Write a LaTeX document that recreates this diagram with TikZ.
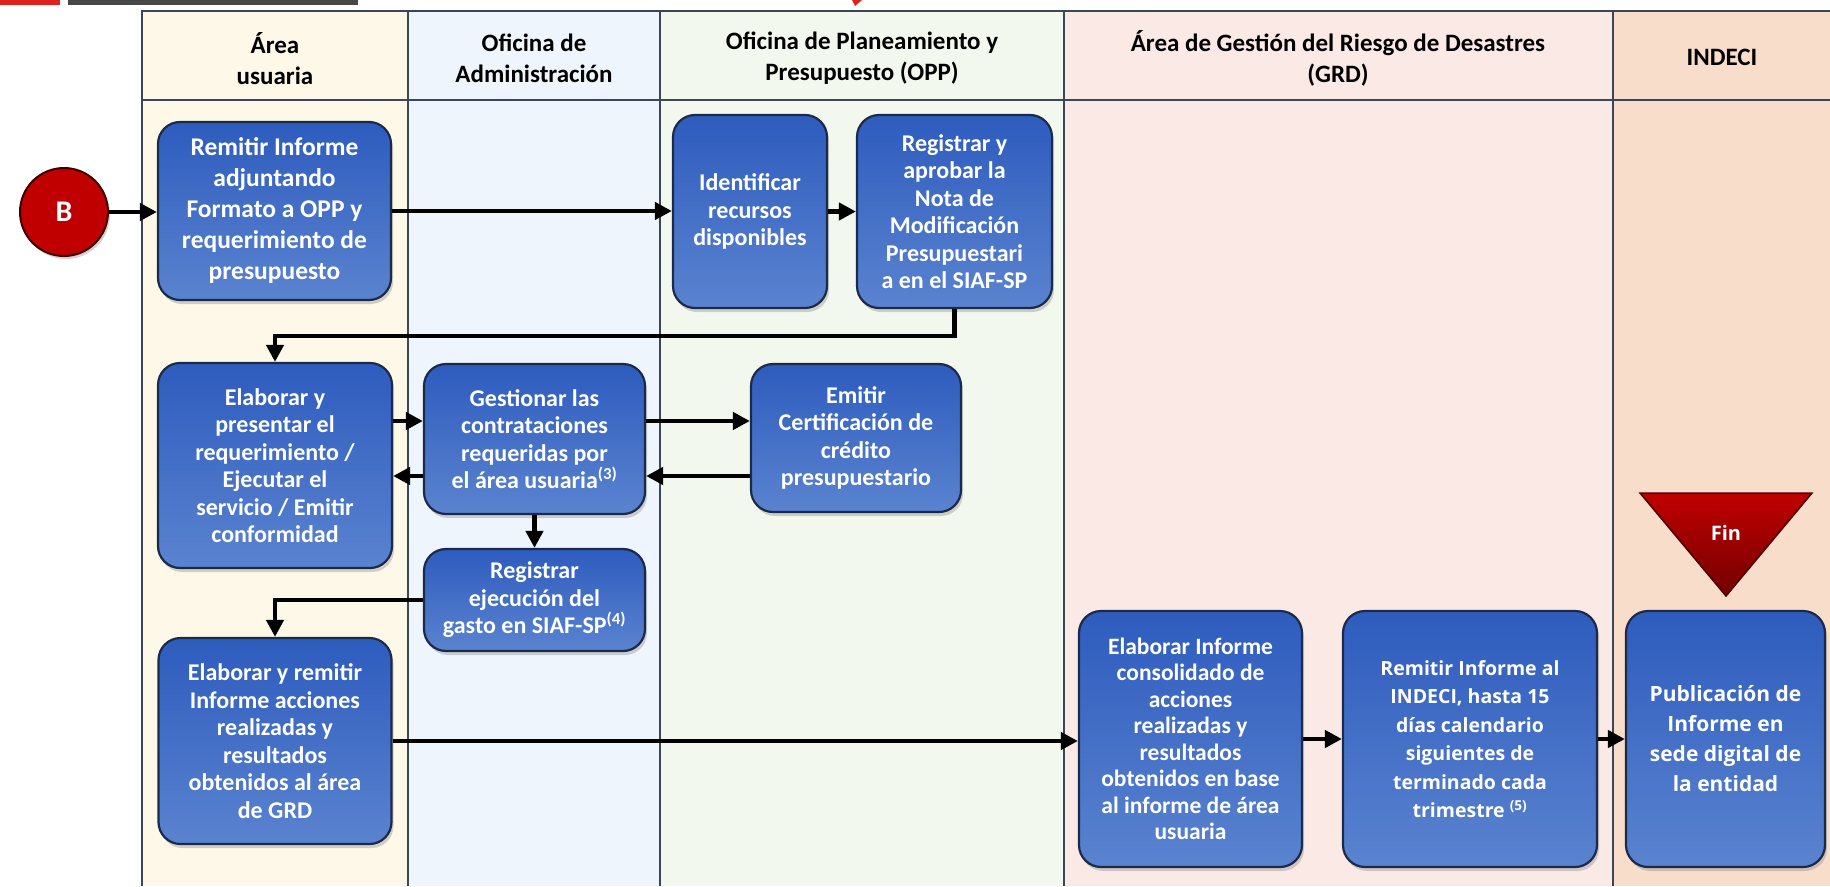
\documentclass[tikz,border=0pt]{standalone}
\usepackage{fontspec}
\setmainfont{Carlito}
\newfontfamily\opsans{Open Sans}
\usetikzlibrary{arrows.meta,shadows}
\definecolor{lna}{HTML}{FEF8E8}
\definecolor{lnb}{HTML}{EFF5FC}
\definecolor{lnc}{HTML}{F3F8EE}
\definecolor{lnd}{HTML}{FBE9E6}
\definecolor{lne}{HTML}{F9DDCB}
\definecolor{bxt}{HTML}{2E5CBE}
\definecolor{bxb}{HTML}{5A83CF}
\definecolor{bxd}{HTML}{1C2A4A}
\definecolor{lnx}{HTML}{3C4659}
\definecolor{rdx}{HTML}{C00000}
\definecolor{rdy}{HTML}{E0221E}
\tikzset{
    proc/.style={rounded corners=22pt,draw=bxd,line width=2.2pt,top color=bxt,bottom color=bxb,
        drop shadow={opacity=0.35,shadow xshift=2pt,shadow yshift=-4pt},
        text=white,font=\bfseries\fontsize{24}{27.5}\selectfont,align=center,inner sep=0pt},
    lanehd/.style={font=\bfseries\fontsize{25}{31}\selectfont,align=center,inner sep=0pt},
    flow/.style={line width=4.5pt,-{Triangle[length=17pt,width=17pt]}},
    ini/.style={circle,minimum size=88pt,fill=rdx,draw=black!75!red,line width=2pt,
        drop shadow={opacity=0.35,shadow xshift=2pt,shadow yshift=-3pt},
        text=white,font=\bfseries\fontsize{30}{32}\selectfont,inner sep=0pt},
    finx/.style={top color=rdx,bottom color=red!45!black,draw=black!70!red,line width=1.5pt},
    fintx/.style={text=white,font=\opsans\bfseries\fontsize{20}{24}\selectfont,inner sep=0pt}
}
\begin{document}
\begin{tikzpicture}[x=1pt,y=-1pt]
    \useasboundingbox (0,0) rectangle (1830,886);
    \fill[rdy] (0,0) rectangle (60,5);
    \fill[black!72] (68,0) rectangle (358,5);
    \fill[rdy] (852,0) -- (862,0) -- (855,6) -- cycle;
    \foreach \xa/\xb/\cl in {142/408/lna,408/660/lnb,660/1064/lnc,1064/1613/lnd,1613/1830/lne} {
        \fill[\cl] (\xa,11) rectangle (\xb,886);
    }
    \draw[lnx,line width=2.5pt] (142,886) -- (142,11) -- (1830,11);
    \draw[lnx,line width=2.5pt] (142,100) -- (1830,100);
    \foreach \xa in {408,660,1064,1613} {
        \draw[lnx,line width=2pt] (\xa,11) -- (\xa,886);
    }
    \node[lanehd] (h1) at (275,58.5) {Área\\usuaria};
    \node[lanehd] (h2) at (534,58.5) {Oficina de\\Administración};
    \node[lanehd] (h3) at (862,58.5) {Oficina de Planeamiento y\\Presupuesto (OPP)};
    \node[lanehd] (h4) at (1338,58.5) {Área de Gestión del Riesgo de Desastres\\(GRD)};
    \node[lanehd] (h5) at (1722,57) {INDECI};
    \node[ini] (b) at (64,212) {B};
    \node[proc,minimum width=233pt,minimum height=178pt,font=\bfseries\fontsize{25.5}{31}\selectfont] (p1) at (274.5,211)
        {Remitir Informe\\adjuntando\\Formato a OPP y\\requerimiento de\\presupuesto};
    \node[proc,minimum width=154pt,minimum height=193pt] (p2) at (750,211.5)
        {Identificar\\recursos\\disponibles};
    \node[proc,minimum width=195pt,minimum height=193pt] (p3) at (954.5,211.5)
        {Registrar y\\aprobar la\\Nota de\\Modificación\\Presupuestari\\a en el SIAF-SP};
    \node[proc,minimum width=234pt,minimum height=205pt] (p4) at (275,465.5)
        {Elaborar y\\presentar el\\requerimiento /\\Ejecutar el\\servicio / Emitir\\conformidad};
    \node[proc,minimum width=221pt,minimum height=150pt] (p5) at (534.5,439)
        {Gestionar las\\contrataciones\\requeridas por\\el área usuaria\textsuperscript{(3)}};
    \node[proc,minimum width=210pt,minimum height=148pt] (p6) at (856,438)
        {Emitir\\Certificación de\\crédito\\presupuestario};
    \node[proc,minimum width=221pt,minimum height=102pt] (p7) at (534.5,600)
        {Registrar\\ejecución del\\gasto en SIAF-SP\textsuperscript{(4)}};
    \node[proc,minimum width=233pt,minimum height=206pt] (p8) at (275,741)
        {Elaborar y remitir\\Informe acciones\\realizadas y\\resultados\\obtenidos al área\\de GRD};
    \node[proc,minimum width=223pt,minimum height=256pt,font=\bfseries\fontsize{23.5}{26.5}\selectfont] (p9) at (1190.5,739)
        {Elaborar Informe\\consolidado de\\acciones\\realizadas y\\resultados\\obtenidos en base\\al informe de área\\usuaria};
    \node[proc,minimum width=254pt,minimum height=256pt,font=\opsans\bfseries\fontsize{19.5}{28.5}\selectfont] (p10) at (1470,739)
        {Remitir Informe al\\INDECI, hasta 15\\días calendario\\siguientes de\\terminado cada\\trimestre \textsuperscript{(5)}};
    \node[proc,minimum width=199pt,minimum height=256pt,font=\opsans\bfseries\fontsize{21}{30}\selectfont] (p11) at (1725.5,739)
        {Publicación de\\Informe en\\sede digital de\\la entidad};
    \path[finx] (1640,493) -- (1812,493) -- (1726,596) -- cycle;
    \node[fintx] (fin) at (1726,533) {Fin};
    \coordinate (k1) at (275,336);
    \coordinate (u1) at ([yshift=18pt]p5.west);
    \coordinate (u2) at ([yshift=-37pt]p5.west);
    \coordinate (u3) at ([yshift=18pt]p5.east);
    \coordinate (u4) at ([yshift=-37pt]p5.east);
    \draw[flow] (b.east) -- (b.east -| p1.west);
    \draw[flow] (p1.east) -- (p1.east -| p2.west);
    \draw[flow] (p2.east) -- (p3.west);
    \draw[flow] (p3.south) |- (k1) -- (p4.north);
    \draw[flow] (u1 -| p4.east) -- (u1);
    \draw[flow] (u2) -- (u2 -| p4.east);
    \draw[flow] (u3) -- (u3 -| p6.west);
    \draw[flow] (u4 -| p6.west) -- (u4);
    \draw[flow] (p5.south) -- (p7.north);
    \draw[flow] (p7.west) -| (p8.north);
    \draw[flow] (p8.east) -- (p8.east -| p9.west);
    \draw[flow] (p9.east) -- (p10.west);
    \draw[flow] (p10.east) -- (p11.west);
\end{tikzpicture}
\end{document}
